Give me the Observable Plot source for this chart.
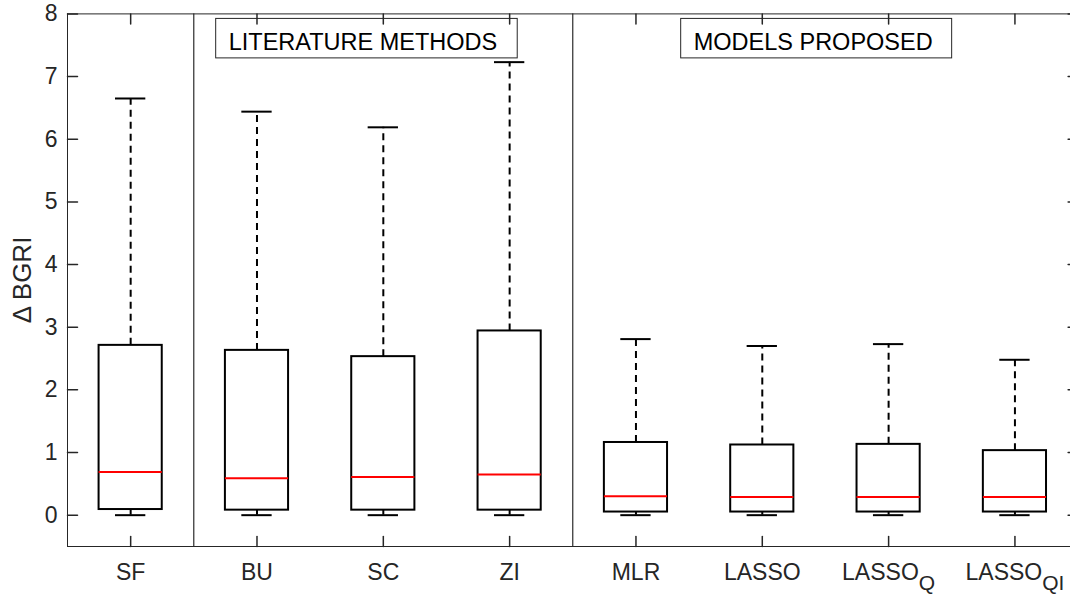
<!DOCTYPE html>
<html>
<head>
<meta charset="utf-8">
<script src="https://cdn.jsdelivr.net/npm/d3@7"></script>
<script src="https://cdn.jsdelivr.net/npm/@observablehq/plot@0.6"></script>
<style>
  html, body { margin: 0; padding: 0; background: #fff; overflow: hidden; }
  #chart svg { display: block; }
</style>
</head>
<body>
<div id="chart"></div>
<script>
// Methods compared (an underscore marks a subscript in the label)
const methods = ["SF", "BU", "SC", "ZI", "MLR", "LASSO", "LASSO_Q", "LASSO_QI"];

// Box-plot statistics of ΔBGRI for each method
const whiskerLow  = [0, 0, 0, 0, 0, 0, 0, 0];
const quartile1   = [0.09, 0.08, 0.08, 0.08, 0.05, 0.05, 0.05, 0.05];
const medians     = [0.69, 0.59, 0.61, 0.65, 0.30, 0.29, 0.29, 0.29];
const quartile3   = [2.71, 2.63, 2.53, 2.94, 1.16, 1.12, 1.13, 1.03];
const whiskerHigh = [6.65, 6.44, 6.19, 7.23, 2.81, 2.70, 2.73, 2.48];

// Axis ticks
const yTicks = [0, 1, 2, 3, 4, 5, 6, 7, 8];
const xTicks = [1, 2, 3, 4, 5, 6, 7, 8];

// Group dividers and group captions
const dividers = [1.5, 4.5];
const groups = [
  {label: "LITERATURE METHODS", x1: 1.677, x2: 4.064},
  {label: "MODELS PROPOSED",    x1: 5.358, x2: 7.503}
];

const rows = methods.map((m, i) => ({
  pos: i + 1, method: m,
  lo: whiskerLow[i], q1: quartile1[i], med: medians[i], q3: quartile3[i], hi: whiskerHigh[i]
}));

const boxHalf = 0.25, capHalf = 0.12;
const axisColor = "#262626";
const font = "'Liberation Sans', Arial, Helvetica, sans-serif";

// a plain inward tick drawn by the vector mark
const tickShape = {draw(ctx, l) { ctx.moveTo(0, 0); ctx.lineTo(0, -l); }};
const tickLen = 10;

const chart = Plot.plot({
  width: 1070,
  height: 595,
  marginLeft: 67,
  marginRight: 0,
  marginTop: 13,
  marginBottom: 49,
  x: {domain: [0.5, 8.5], range: [67, 1077.6]},
  y: {domain: [-0.5, 8], range: [546, 13.4]},
  style: {fontFamily: font, fontSize: "23px", color: axisColor, background: "white"},
  marks: [
    // whiskers
    Plot.ruleX(rows, {x: "pos", y1: "q3", y2: "hi", stroke: "black", strokeWidth: 2, strokeDasharray: "7,5"}),
    Plot.ruleX(rows, {x: "pos", y1: "lo", y2: "q1", stroke: "black", strokeWidth: 2}),
    // whisker caps
    Plot.ruleY(rows, {y: "hi", x1: d => d.pos - capHalf, x2: d => d.pos + capHalf, stroke: "black", strokeWidth: 2}),
    Plot.ruleY(rows, {y: "lo", x1: d => d.pos - capHalf, x2: d => d.pos + capHalf, stroke: "black", strokeWidth: 2}),
    // interquartile boxes
    Plot.rect(rows, {x1: d => d.pos - boxHalf, x2: d => d.pos + boxHalf, y1: "q1", y2: "q3",
      fill: "none", stroke: "black", strokeWidth: 2}),
    // medians
    Plot.ruleY(rows, {y: "med", x1: d => d.pos - boxHalf, x2: d => d.pos + boxHalf, stroke: "#ff0000", strokeWidth: 2}),
    // group dividers
    Plot.ruleX(dividers, {x: d => d, y1: -0.5, y2: 8, stroke: "black", strokeWidth: 1}),
    // group captions
    Plot.rect(groups, {x1: "x1", x2: "x2", y1: 7.29, y2: 7.92, fill: "white", stroke: axisColor, strokeWidth: 1}),
    Plot.text(groups, {x: "x1", y: 7.55, text: "label", textAnchor: "start", lineAnchor: "middle",
      dx: 12.5, fontSize: 23.5, fill: "black"}),
    // axes box
    Plot.ruleX([0.5, 8.5], {x: d => d, y1: -0.5, y2: 8, stroke: axisColor, strokeWidth: 1}),
    Plot.ruleY([-0.5, 8], {y: d => d, x1: 0.5, x2: 8.5, stroke: axisColor, strokeWidth: 1}),
    // inward ticks on all four sides
    Plot.vector(yTicks, {x: 0.5, y: d => d, rotate: 90, length: tickLen, anchor: "start", shape: tickShape, stroke: axisColor}),
    Plot.vector(yTicks, {x: 8.5, y: d => d, rotate: -90, length: tickLen, anchor: "start", shape: tickShape, stroke: axisColor}),
    Plot.vector(xTicks, {x: d => d, y: -0.5, rotate: 0, length: tickLen, anchor: "start", shape: tickShape, stroke: axisColor}),
    Plot.vector(xTicks, {x: d => d, y: 8, rotate: 180, length: tickLen, anchor: "start", shape: tickShape, stroke: axisColor}),
    // tick labels
    Plot.axisY({ticks: yTicks, tickSize: 0, tickPadding: 10, label: null, fontSize: 23, tickFormat: d => String(d)}),
    Plot.axisX({ticks: xTicks, tickSize: 0, tickPadding: 17, label: null, fontSize: 23, tickFormat: d => methods[d - 1]}),
    // y-axis title
    Plot.text(["\u0394 BGRI"], {frameAnchor: "left", rotate: -90, dx: -45, fontSize: 26,
      textAnchor: "middle", lineAnchor: "middle", fill: axisColor})
  ]
});

// turn "NAME_SUB" tick labels into a name with a subscript
d3.select(chart).selectAll('g[aria-label="x-axis tick label"] text').each(function () {
  const label = this.textContent;
  const k = label.indexOf("_");
  if (k < 0) return;
  const t = d3.select(this);
  t.text(null);
  t.append("tspan").text(label.slice(0, k));
  t.append("tspan").attr("dy", "10").attr("font-size", 21).text(label.slice(k + 1));
});

document.getElementById("chart").appendChild(chart);
</script>
</body>
</html>
